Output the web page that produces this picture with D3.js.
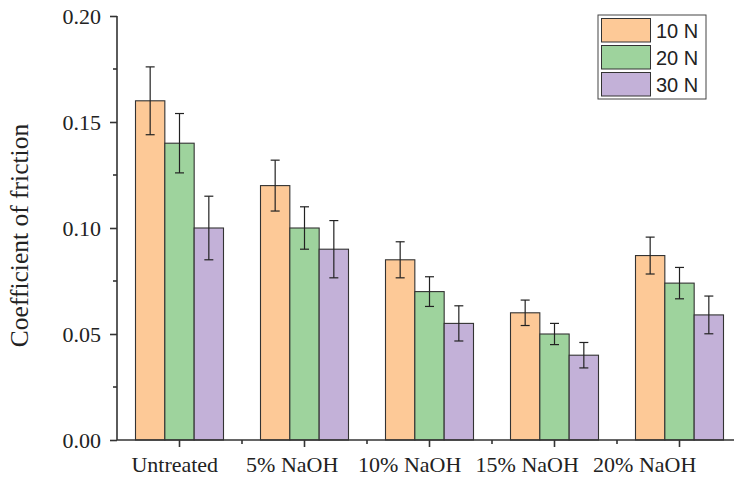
<!DOCTYPE html>
<html>
<head>
<meta charset="utf-8">
<script src="https://cdn.jsdelivr.net/npm/d3@7"></script>
<style>
  html, body { margin: 0; padding: 0; background: #fff; }
  svg { display: block; }
</style>
</head>
<body>
<svg id="chart" width="734" height="478"></svg>
<script>
// Friction coefficient by treatment and load
const categories = ["Untreated", "5% NaOH", "10% NaOH", "15% NaOH", "20% NaOH"];
const loads = ["10 N", "20 N", "30 N"];
const mean10N = [0.160, 0.120, 0.085, 0.060, 0.087];
const mean20N = [0.140, 0.100, 0.070, 0.050, 0.074];
const mean30N = [0.100, 0.090, 0.055, 0.040, 0.059];
const err10N = [0.016, 0.012, 0.0085, 0.006, 0.0087];
const err20N = [0.014, 0.010, 0.007, 0.005, 0.0074];
const err30N = [0.015, 0.0135, 0.0083, 0.006, 0.0089];
const yTicks = [0.00, 0.05, 0.10, 0.15, 0.20];
const colors = ["#FDC997", "#9ED39D", "#C3B1D8"];

const means = [mean10N, mean20N, mean30N];
const errs = [err10N, err20N, err30N];

const svg = d3.select("#chart");
const plotL = 117, plotR = 742, plotT = 16, plotB = 440;
const serif = "'Liberation Serif', 'Times New Roman', Times, serif";

const x = d3.scaleBand().domain(categories).range([plotL, plotR]).paddingInner(0).paddingOuter(0);
const groupW = 88;
const xs = d3.scaleBand().domain(loads).range([-groupW / 2, groupW / 2]).padding(0);
const y = d3.scaleLinear().domain([0, 0.20]).range([plotB, plotT]);
// category labels sit on a slightly tighter spacing than the ticks
const xLabel = d3.scaleBand().domain(categories).range([116, 703.5]);

const ink = "#333";

// bars
categories.forEach((c, i) => {
  const cx = x(c) + x.bandwidth() / 2;
  loads.forEach((l, j) => {
    const v = means[j][i];
    svg.append("rect")
      .attr("x", cx + xs(l))
      .attr("y", y(v))
      .attr("width", xs.bandwidth())
      .attr("height", y(0) - y(v))
      .attr("fill", colors[j])
      .attr("stroke", ink)
      .attr("stroke-width", 1.1);
  });
});

// error bars
categories.forEach((c, i) => {
  const cx = x(c) + x.bandwidth() / 2;
  loads.forEach((l, j) => {
    const v = means[j][i], e = errs[j][i];
    const bx = cx + xs(l) + xs.bandwidth() / 2;
    const g = svg.append("g").attr("stroke", "#222").attr("stroke-width", 1.2);
    g.append("line").attr("x1", bx).attr("x2", bx).attr("y1", y(v + e)).attr("y2", y(v - e));
    g.append("line").attr("x1", bx - 4.5).attr("x2", bx + 4.5).attr("y1", y(v + e)).attr("y2", y(v + e));
    g.append("line").attr("x1", bx - 4.5).attr("x2", bx + 4.5).attr("y1", y(v - e)).attr("y2", y(v - e));
  });
});

// y axis
const yAxis = d3.axisLeft(y).tickValues(yTicks).tickFormat(d3.format(".2f")).tickSize(7).tickPadding(9);
const gy = svg.append("g").attr("transform", `translate(${plotL},0)`).call(yAxis);
gy.attr("font-family", null).attr("font-size", null);
gy.select(".domain").attr("stroke", ink).attr("stroke-width", 1.6).attr("d", `M0,${plotB}V${plotT}`);
gy.selectAll(".tick line").attr("stroke", ink).attr("stroke-width", 1.6);
gy.selectAll(".tick text").attr("fill", "#222").attr("dy", "0.34em")
  .style("font-family", serif).style("font-size", "22px");
// minor y ticks
const minorY = d3.range(0.025, 0.2, 0.05);
svg.append("g").selectAll("line").data(minorY).join("line")
  .attr("x1", plotL - 4).attr("x2", plotL).attr("y1", d => y(d)).attr("y2", d => y(d))
  .attr("stroke", ink).attr("stroke-width", 1.6);

// x axis
const xAxis = d3.axisBottom(x).tickSize(7).tickFormat("");
const gx = svg.append("g").attr("transform", `translate(0,${plotB})`).call(xAxis);
gx.select(".domain").attr("stroke", ink).attr("stroke-width", 1.6).attr("d", `M${plotL},0H${plotR}`);
gx.selectAll(".tick line").attr("stroke", ink).attr("stroke-width", 1.6);
// minor x ticks between groups
svg.append("g").selectAll("line").data(categories.slice(1)).join("line")
  .attr("x1", d => x(d)).attr("x2", d => x(d)).attr("y1", plotB).attr("y2", plotB + 4)
  .attr("stroke", ink).attr("stroke-width", 1.6);
// category labels
svg.append("g").selectAll("text").data(categories).join("text")
  .attr("x", d => xLabel(d) + xLabel.bandwidth() / 2)
  .attr("y", 471.5)
  .attr("text-anchor", "middle")
  .attr("fill", "#222")
  .style("font-family", serif)
  .style("font-size", "22px")
  .text(d => d);

// y axis title
svg.append("text")
  .attr("transform", `translate(27.5,235.5) rotate(-90)`)
  .attr("text-anchor", "middle")
  .attr("fill", "#222")
  .style("font-family", serif)
  .style("font-size", "25.5px")
  .text("Coefficient of friction");

// legend
const lg = svg.append("g").attr("transform", "translate(598,15)");
lg.append("rect").attr("width", 108).attr("height", 84).attr("fill", "#fff").attr("stroke", "#444").attr("stroke-width", 1);
loads.forEach((l, j) => {
  const ry = 3.5 + j * 27;
  lg.append("rect").attr("x", 3.5).attr("y", ry).attr("width", 49).attr("height", 23.5)
    .attr("fill", colors[j]).attr("stroke", ink).attr("stroke-width", 1);
  lg.append("text").attr("x", 58).attr("y", ry + 19.5)
    .attr("fill", "#222")
    .style("font-family", "'Liberation Sans', Arial, sans-serif")
    .style("font-size", "20px")
    .text(l);
});
</script>
</body>
</html>
